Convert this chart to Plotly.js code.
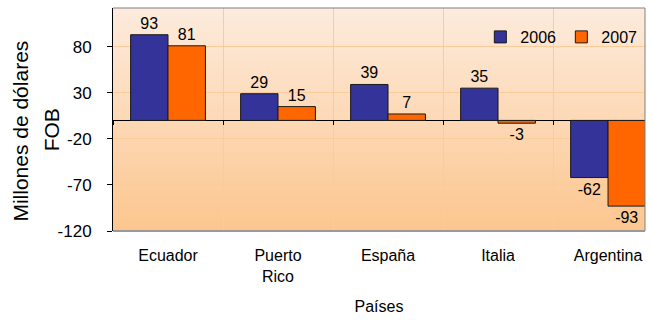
<!DOCTYPE html>
<html>
<head>
<meta charset="utf-8">
<script src="https://cdn.plot.ly/plotly-3.0.1.min.js"></script>
<style>html,body{margin:0;padding:0;background:#fff}#chart{width:652px;height:320px}</style>
</head>
<body>
<div id="chart"></div>
<script>
const categories = ["Ecuador", "Puerto<br>Rico", "España", "Italia", "Argentina"];
const values2006 = [93, 29, 39, 35, -62];
const values2007 = [81, 15, 7, -3, -93];
const seriesNames = ["2006", "2007"];
const yTicks = [80, 30, -20, -70, -120];

const FONT = "Liberation Sans, Arial, sans-serif";
const xIdx = categories.map((c, i) => i);

const gradSvg = '<svg xmlns="http://www.w3.org/2000/svg" width="10" height="100" preserveAspectRatio="none">' +
  '<defs><linearGradient id="g" x1="0" y1="0" x2="0" y2="1">' +
  '<stop offset="0" stop-color="#FDEBDD"/><stop offset="1" stop-color="#FCC68E"/>' +
  '</linearGradient></defs><rect width="10" height="100" fill="url(#g)"/></svg>';
const gradUri = 'data:image/svg+xml;base64,' + btoa(gradSvg);

function barTrace(vals, name, color) {
  return {
    type: 'bar', x: xIdx, y: vals, name: name,
    marker: {color: color, line: {color: '#1a1a1a', width: 1}},
    text: vals.map(String), textposition: 'outside',
    textfont: {family: FONT, size: 16, color: '#000'},
    cliponaxis: false, hoverinfo: 'skip'
  };
}

const data = [
  barTrace(values2006, seriesNames[0], '#333399'),
  barTrace(values2007, seriesNames[1], '#FF6600')
];

const yMin = -120, yMax = 122;
const xRange = [-0.5, 4.336];
const zeroPos = (0 - yMin) / (yMax - yMin);
const plotBottomToZeroPx = zeroPos * (320 - 8 - 89);

const layout = {
  width: 652, height: 320,
  margin: {l: 113, r: 7, t: 8, b: 89},
  paper_bgcolor: '#fff', plot_bgcolor: 'rgba(0,0,0,0)',
  font: {family: FONT, size: 16, color: '#000'},
  barmode: 'group', bargap: 0.32, bargroupgap: 0,
  showlegend: true,
  legend: {orientation: 'h', x: 0.995, y: 0.87, xanchor: 'right', yanchor: 'middle',
           bgcolor: 'rgba(0,0,0,0)', font: {family: FONT, size: 16, color: '#000'},
           itemwidth: 30, entrywidth: 36, traceorder: 'normal'},
  xaxis: {
    type: 'linear', autorange: false, range: xRange,
    anchor: 'free', position: zeroPos,
    tickmode: 'array', tickvals: xIdx, ticktext: categories,
    ticks: '', showgrid: false, zeroline: false, showline: false,
    tickfont: {family: FONT, size: 16, color: '#000'},
    ticklabelstandoff: Math.round(plotBottomToZeroPx) + 13,
    minor: {tickmode: 'linear', tick0: 0.5, dtick: 1, ticks: 'outside', ticklen: 4,
            tickcolor: '#000', tickwidth: 1, showgrid: true, gridcolor: '#FBCB9C', gridwidth: 1},
    title: {text: 'Países', font: {family: FONT, size: 16, color: '#000'}, standoff: 16}
  },
  yaxis: {
    type: 'linear', autorange: false, range: [yMin, yMax],
    tickmode: 'array', tickvals: yTicks, ticktext: yTicks.map(String),
    showgrid: true, gridcolor: '#FCCB9A', gridwidth: 1,
    zeroline: true, zerolinecolor: '#000', zerolinewidth: 1,
    showline: true, linecolor: '#000', linewidth: 1,
    ticks: 'outside', ticklen: 5, tickcolor: '#000',
    ticklabelstandoff: 12,
    tickfont: {family: FONT, size: 17, color: '#000'}
  },
  images: [{
    source: gradUri, xref: 'paper', yref: 'paper', x: 0, y: 1,
    sizex: 1, sizey: 1, sizing: 'stretch', layer: 'below', xanchor: 'left', yanchor: 'top'
  }],
  shapes: [
    {type: 'line', xref: 'paper', yref: 'paper', x0: 0, x1: 1, y0: 1, y1: 1, line: {color: '#808080', width: 1}},
    {type: 'line', xref: 'paper', yref: 'paper', x0: 1, x1: 1, y0: 0, y1: 1, line: {color: '#808080', width: 1}},
    {type: 'line', xref: 'paper', yref: 'paper', x0: 0, x1: 1, y0: 0, y1: 0, line: {color: '#999999', width: 2}}
  ],
  annotations: [
    {text: 'Millones de dólares', xref: 'paper', yref: 'paper', x: -0.173, y: 0.45, showarrow: false,
     textangle: -90, xanchor: 'center', yanchor: 'middle', font: {family: FONT, size: 21, color: '#000'}},
    {text: 'FOB', xref: 'paper', yref: 'paper', x: -0.115, y: 0.455, showarrow: false,
     textangle: -90, xanchor: 'center', yanchor: 'middle', font: {family: FONT, size: 21, color: '#000'}}
  ]
};

Plotly.newPlot('chart', data, layout, {displayModeBar: false, staticPlot: true});
</script>
</body>
</html>
